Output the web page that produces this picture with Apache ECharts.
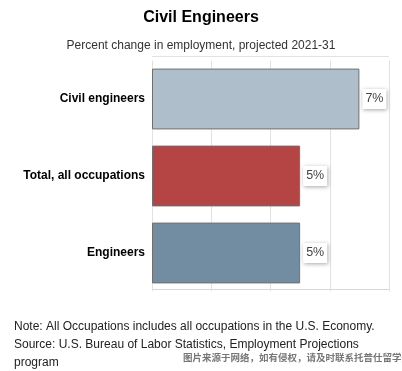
<!DOCTYPE html>
<html><head><meta charset="utf-8">
<script src="https://cdn.jsdelivr.net/npm/echarts@6/dist/echarts.min.js"></script>
<style>html,body{margin:0;padding:0;background:#fff}#c{width:402px;height:371px}</style>
</head><body><div id="c"></div>
<script>
var categories = ['Civil engineers', 'Total, all occupations', 'Engineers'];
var values = [7, 5, 5];
var barColors = ['#aebfcb', '#b54444', '#728ca2'];
var xTicks = [0, 2, 4, 6, 8];
var titleText = 'Civil Engineers';
var subtitleText = 'Percent change in employment, projected 2021-31';
var noteLines = ['Note: All Occupations includes all occupations in the U.S. Economy.',
  'Source: U.S. Bureau of Labor Statistics, Employment Projections',
  'program'];
var watermark = '图片来源于网络，如有侵权，请及时联系托普仕留学删除';

var chart = echarts.init(document.getElementById('c'));
var textFont = '"Liberation Sans", Arial, sans-serif';
chart.setOption({
  animation: false,
  title: [{
    text: titleText, left: 'center', top: 5,
    textStyle: {fontFamily: textFont, fontSize: 16, fontWeight: 'bold', color: '#000'}
  }, {
    text: subtitleText, left: 'center', top: 35,
    textStyle: {fontFamily: textFont, fontSize: 12, fontWeight: 'normal', color: '#333'}
  }],
  grid: {left: 152, right: 13, top: 60.5, height: 231, containLabel: false},
  xAxis: {
    type: 'value', min: xTicks[0], max: xTicks[xTicks.length - 1], interval: 2,
    axisLabel: {show: false}, axisTick: {show: false}, axisLine: {show: false},
    splitLine: {show: true, lineStyle: {color: '#e2e2e2', width: 1}}
  },
  yAxis: {
    type: 'category', data: categories, inverse: true,
    axisTick: {show: false}, axisLine: {show: false},
    axisLabel: {fontFamily: textFont, fontSize: 12, fontWeight: 'bold', color: '#000', margin: 7}
  },
  series: [{
    type: 'bar', barCategoryGap: '21%',
    data: values.map(function (v, i) {
      return {value: v, itemStyle: {color: barColors[i]}};
    }),
    itemStyle: {borderColor: '#707070', borderWidth: 1},
    label: {
      show: true, position: 'right', distance: 3,
      formatter: function (p) { return p.value + '%'; },
      fontFamily: textFont, fontSize: 12.5, color: '#444',
      backgroundColor: '#fff', padding: [4, 3, 3, 3],
      shadowColor: 'rgba(0,0,0,0.35)', shadowBlur: 4, shadowOffsetX: 1, shadowOffsetY: 1
    }
  }],
  graphic: [
    {type: 'line', shape: {x1: 152, y1: 56.5, x2: 389, y2: 56.5}, style: {stroke: '#e2e2e2', lineWidth: 1}},
    {type: 'line', shape: {x1: 152, y1: 289.5, x2: 389, y2: 289.5}, style: {stroke: '#d8d8d8', lineWidth: 1}},
    {type: 'text', left: 14, top: 318, style: {text: noteLines.join('\n'), fontFamily: textFont, fontSize: 12, lineHeight: 18, fill: '#222'}},
    {type: 'text', left: 183, top: 353, style: {text: watermark, fontFamily: '"Noto Sans CJK SC", sans-serif', fontSize: 9.5, fontWeight: 'bold', fill: '#777'}}
  ]
});
</script></body></html>
